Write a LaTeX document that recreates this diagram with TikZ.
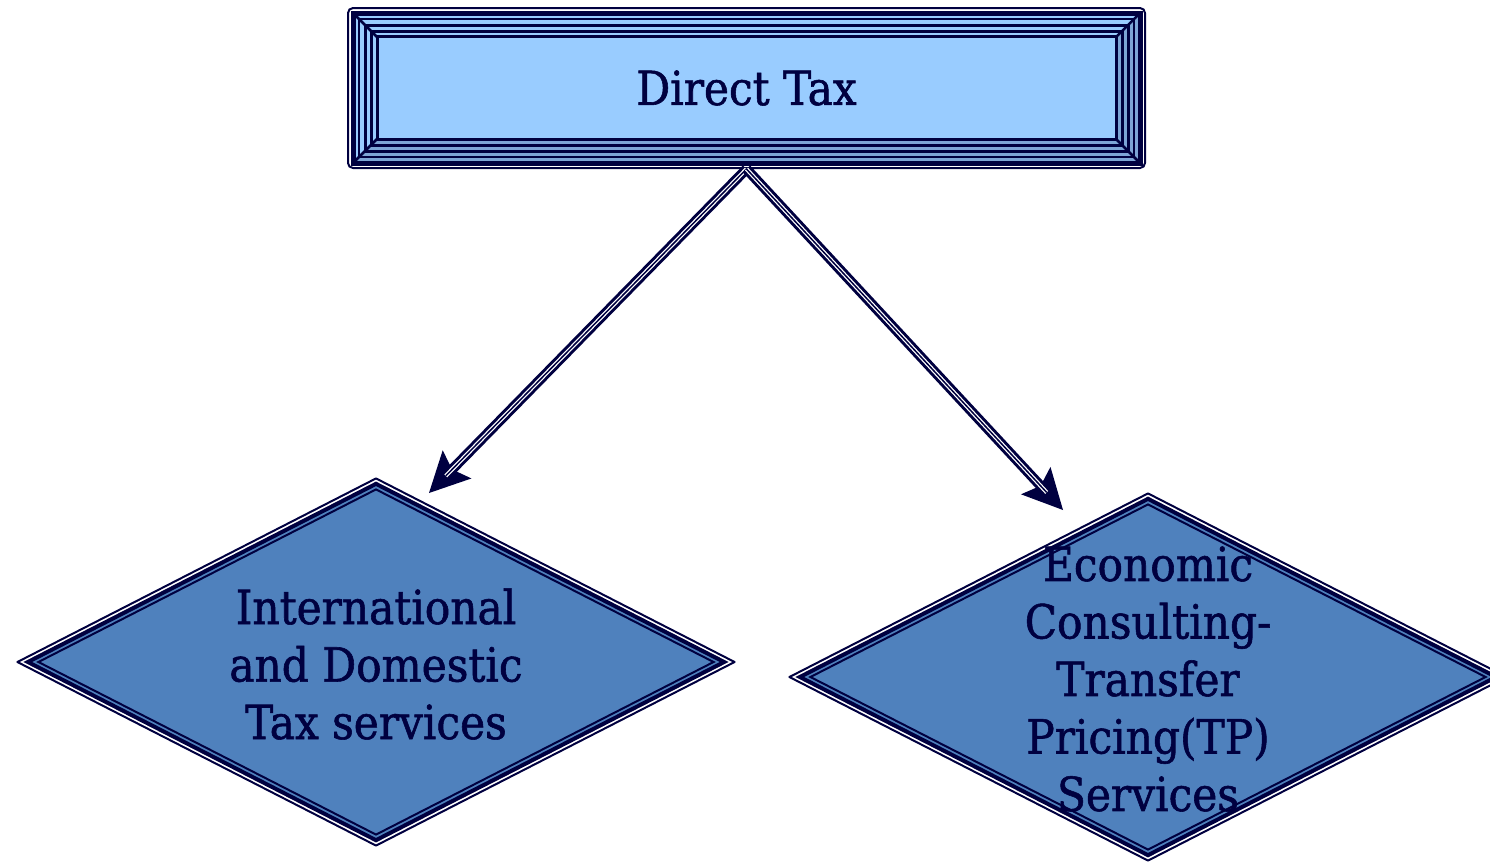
\documentclass[tikz,border=0pt]{standalone}
\usepackage{fontspec}
\setmainfont{DejaVu Serif Condensed}[BoldFont=DejaVu Serif Condensed, BoldFeatures={FakeBold=1.2}]
\usetikzlibrary{shapes.geometric,arrows.meta}
\definecolor{ink}{HTML}{000040}
\definecolor{paleblue}{HTML}{99CCFF}
\definecolor{bevelblue}{HTML}{7DA5D6}
\definecolor{steelblue}{HTML}{4F81BD}

\begin{document}
\begin{tikzpicture}[x=1pt,y=-1pt,
        gem/.style={diamond, inner sep=0pt, draw=ink},
        caption/.style={align=center, text=ink, font=\bfseries\fontsize{47}{57.5}\selectfont},
        tip/.style={ink, line width=1.5pt, -{Stealth[length=40pt, width=40pt, inset=7pt]}},
        shaft/.style={ink, line width=3pt, double=white, double distance=4pt, shorten >=24pt}]
        \def\gem#1#2{
            \node[gem, minimum width=718pt, minimum height=368pt, line width=2pt, fill=white, line join=round] (#1) at (#2) {};
            \node[gem, minimum width=698pt, minimum height=358pt, line width=4pt, fill=steelblue] at (#1) {};
            \node[gem, minimum width=676pt, minimum height=346pt, line width=2pt] at (#1) {};
        }

        \useasboundingbox (0,0) rectangle (1490,863);
        \clip (0,0) rectangle (1490,863);

        % bevelled frame
        \node[draw=ink, line width=2pt, fill=white, rounded corners=5pt, inner sep=0pt,
            minimum width=797pt, minimum height=160pt] (dt) at (746.5,88) {};
        \fill[paleblue] (353,13) rectangle (1140,163);
        \fill[bevelblue] (353,163) -- (1140,163) -- (1116,139) -- (377,139) -- cycle;
        \fill[bevelblue] (1140,13) -- (1140,163) -- (1116,139) -- (1116,37) -- cycle;
        \foreach \d/\w in {5/5, 11/2.5, 17/3, 23/3}
            \draw[ink, line width=\w pt] (348+\d,8+\d) rectangle (1145-\d,168-\d);
        \draw[ink, line width=2.5pt] (352,12) -- (378,38) (1141,12) -- (1115,38)
            (352,164) -- (378,138) (1141,164) -- (1115,138);
        \node[draw=ink, line width=3pt, fill=paleblue, inner sep=0pt, minimum width=739pt,
            minimum height=103pt, text=ink, font=\bfseries\fontsize{47}{55}\selectfont] (tax) at (746.5,88) {Direct Tax};

        % diamonds
        \gem{intl}{376,662}
        \gem{tp}{1148,677}
        \node[caption] (intltext) at (376,664) {International\\and Domestic\\Tax services};
        \node[caption] (tptext) at (1148,679) {Economic\\Consulting-\\Transfer\\Pricing(TP)\\Services};

        % arrows
        \coordinate (intltip) at (429,493);
        \coordinate (tptip) at (1063,510);
        \foreach \t in {intltip, tptip} {
            \draw[tip] (dt.south) -- (\t);
            \draw[shaft] (dt.south) -- (\t);
            \draw[ink, line width=1.5pt, shorten >=24pt] (dt.south) -- (\t);
        }
    \end{tikzpicture}
\end{document}
